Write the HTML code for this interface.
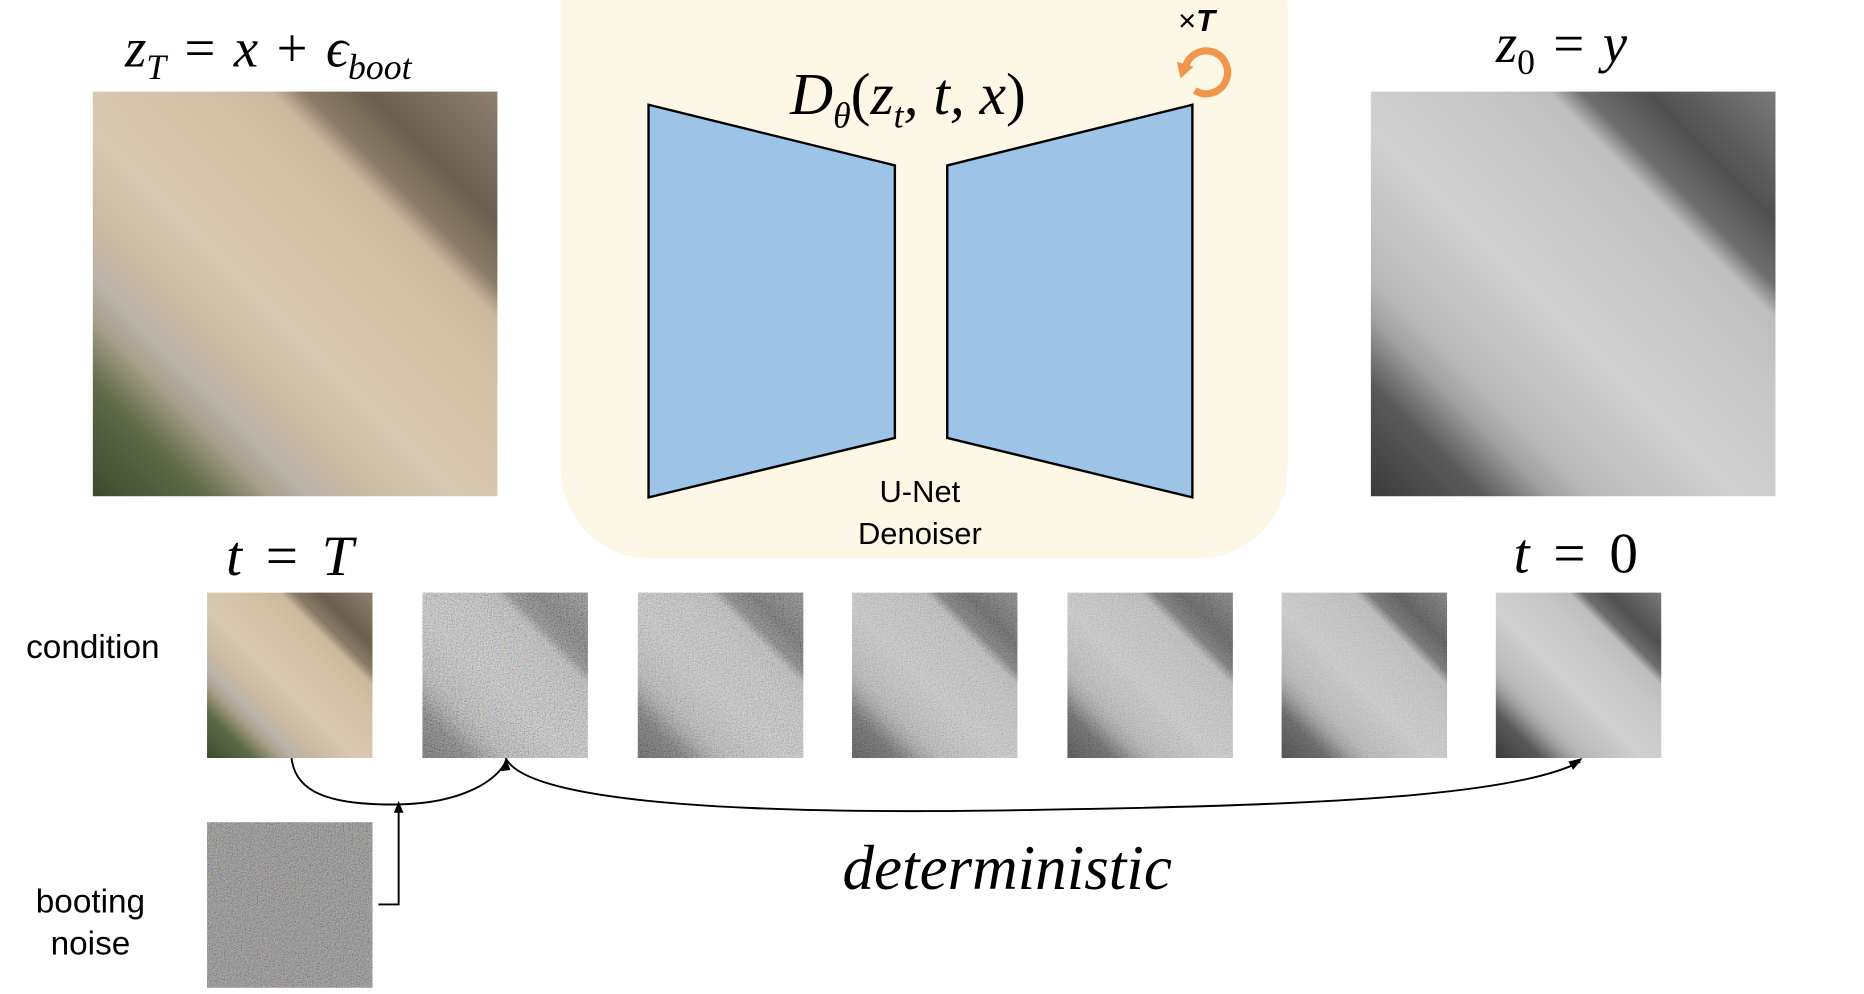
<!DOCTYPE html>
<html><head><meta charset="utf-8"><style>
html,body{margin:0;padding:0;background:#fff;width:1864px;height:994px;overflow:hidden}
#w{position:absolute;left:0;top:0;width:1553px;height:830px;transform:scale(1.19,1.19);transform-origin:0 0}
.a{position:absolute}
.m{font-family:"Liberation Serif",serif;font-style:italic;color:#000;white-space:nowrap}
.s{font-family:"Liberation Sans",sans-serif;color:#000;white-space:nowrap;text-align:center}
.col{background:
 linear-gradient(45deg,#3c4a2c 0%,#5e6a48 14%,#a9a08a 22%,#b9b3ab 27%,#c9b8a0 33%,#d9c9b2 45%,#d4c2a6 62%,#cbb89c 72%,#8a7c68 76%,#6b5f50 84%,#8f8070 100%)}
.gr{background:
 linear-gradient(45deg,#3a3a3a 0%,#5a5a5a 14%,#9f9f9f 22%,#b8b8b8 27%,#c0c0c0 33%,#d0d0d0 45%,#c8c8c8 62%,#bdbdbd 72%,#6e6e6e 76%,#505050 84%,#7a7a7a 100%)}
.sm{width:139px;height:139px;top:498px}
.n{position:absolute;left:0;top:0}
</style></head><body><div id="w">
<svg width="0" height="0" style="position:absolute"><filter id="f"><feTurbulence type="fractalNoise" baseFrequency="0.9" numOctaves="2" seed="3"/><feColorMatrix type="matrix" values="1.6 0 0 0 -0.3 0 1.6 0 0 -0.3 0 0 1.6 0 -0.3 0 0 0 0 1"/></filter></svg>
<div class="a" style="left:471px;top:-70px;width:611px;height:539px;border-radius:75px;background:#fdf7e6"></div>
<svg class="a" style="left:0;top:0" width="1553" height="830">
<polygon points="545,88 752,139 752,368 545,418" fill="#9dc3e6" stroke="#000" stroke-width="2"/>
<polygon points="796,139 1002,88 1002,418 796,368" fill="#9dc3e6" stroke="#000" stroke-width="2"/>
<path d="M1004,76 A18,18 0 1 0 996,57" fill="none" stroke="#f0964a" stroke-width="6"/>
<polygon points="989,52 1003,56 992,66" fill="#f0964a"/>
<path d="M245,637 C248,665 275,677 335,676 C390,675 418,655 425,640" fill="none" stroke="#000" stroke-width="1.6"/>
<polygon points="425,637 421,648 429,647" fill="#000"/>
<path d="M318,760 L335,760 L335,680" fill="none" stroke="#000" stroke-width="1.6"/>
<polygon points="335,673 331,683 339,683" fill="#000"/>
<path d="M425,637 C450,690 800,682 900,680 C1150,676 1280,665 1328,640" fill="none" stroke="#000" stroke-width="1.6"/>
<polygon points="1330,637 1318,640 1322,647" fill="#000"/>
</svg>
<div class="a col" style="left:78px;top:77px;width:340px;height:340px"></div>
<div class="a gr" style="left:1152px;top:77px;width:340px;height:340px"></div>
<div class="a col sm" style="left:174px"></div>
<div class="a gr sm" style="left:355px"><svg class="n" width="139" height="139" style="opacity:.55"><rect width="139" height="139" filter="url(#f)"/></svg></div>
<div class="a gr sm" style="left:536px"><svg class="n" width="139" height="139" style="opacity:.45"><rect width="139" height="139" filter="url(#f)"/></svg></div>
<div class="a gr sm" style="left:716px"><svg class="n" width="139" height="139" style="opacity:.35"><rect width="139" height="139" filter="url(#f)"/></svg></div>
<div class="a gr sm" style="left:897px"><svg class="n" width="139" height="139" style="opacity:.28"><rect width="139" height="139" filter="url(#f)"/></svg></div>
<div class="a gr sm" style="left:1077px"><svg class="n" width="139" height="139" style="opacity:.2"><rect width="139" height="139" filter="url(#f)"/></svg></div>
<div class="a gr sm" style="left:1257px"></div>
<div class="a" style="left:174px;top:691px;width:139px;height:139px;background:#7d7b7a"><svg class="n" width="139" height="139" style="opacity:.5"><rect width="139" height="139" filter="url(#f)"/></svg></div>
<div class="a m" style="left:105px;top:14px;font-size:46px;word-spacing:4px">z<sub style="font-size:30px">T</sub> <span style="font-style:normal">=</span> x <span style="font-style:normal">+</span> ϵ<sub style="font-size:30px">boot</sub></div>
<div class="a m" style="left:1257px;top:10px;font-size:46px;word-spacing:4px">z<sub style="font-size:30px;font-style:normal">0</sub> <span style="font-style:normal">=</span> y</div>
<div class="a m" style="left:664px;top:50px;font-size:50px">D<sub style="font-size:30px">θ</sub><span style="font-style:normal">(</span>z<sub style="font-size:30px">t</sub>, t, x<span style="font-style:normal">)</span></div>
<div class="a s" style="left:990px;top:2px;font-size:26px">×<b><i>T</i></b></div>
<div class="a s" style="left:673px;top:396px;width:200px;font-size:26px;line-height:35px">U-Net<br>Denoiser</div>
<div class="a m" style="left:190px;top:440px;font-size:48px;word-spacing:8px">t <span style="font-style:normal">=</span> T</div>
<div class="a m" style="left:1272px;top:438px;font-size:48px;word-spacing:8px">t <span style="font-style:normal">= 0</span></div>
<div class="a s" style="left:0;top:528px;width:156px;font-size:28px">condition</div>
<div class="a s" style="left:0;top:740px;width:152px;font-size:28px;line-height:35px">booting<br>noise</div>
<div class="a m" style="left:708px;top:700px;font-size:53px">deterministic</div>
</div></body></html>
